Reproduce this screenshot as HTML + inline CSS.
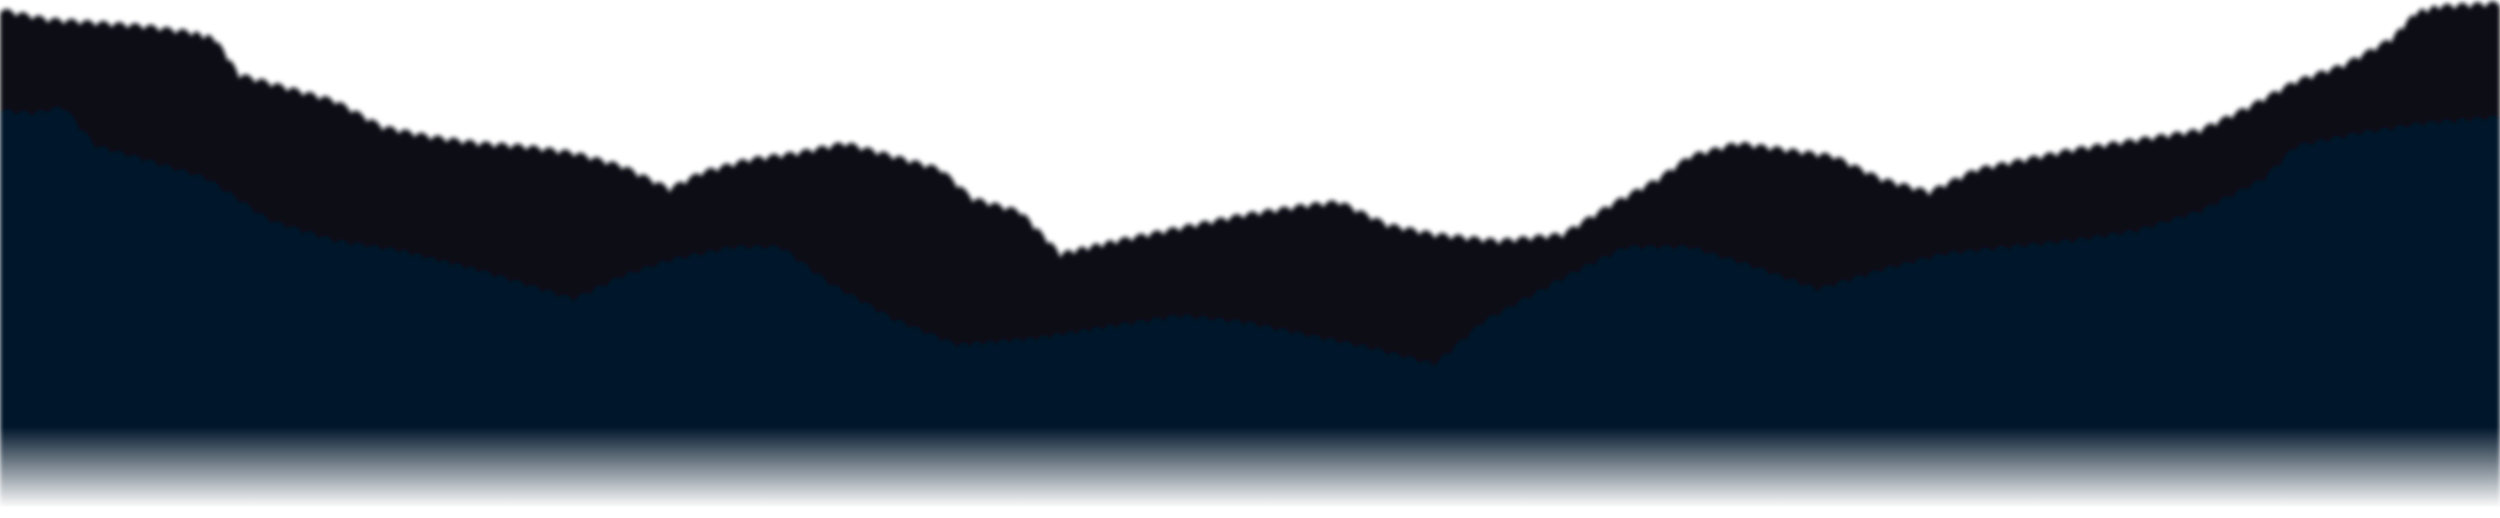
<!DOCTYPE html>
<html>
<head>
<meta charset="utf-8">
<style>
  html,body{margin:0;padding:0;background:#fff;}
  body{width:2500px;height:518px;overflow:hidden;}
  svg{display:block;}
</style>
</head>
<body>
<svg id="scene" width="2500" height="518" viewBox="0 0 1568 318" preserveAspectRatio="none" xmlns="http://www.w3.org/2000/svg">
  <defs>
    <filter id="soft" x="-5%" y="-5%" width="110%" height="110%">
      <feGaussianBlur stdDeviation="1.4"/>
    </filter>
    <linearGradient id="fade" x1="0" y1="0" x2="0" y2="1">
      <stop offset="0" stop-color="#fff" stop-opacity="0"/>
      <stop offset="1" stop-color="#fff" stop-opacity="1"/>
    </linearGradient>
  </defs>
  <g filter="url(#soft)">
    <path id="back" fill="#080f19" d=""/>
    <path id="front" fill="#03172a" d=""/>
  </g>
  <rect x="0" y="262" width="1568" height="50" fill="url(#fade)"/>
  <rect x="0" y="311" width="1568" height="7" fill="#fff"/>
</svg>
<script>
const backX = [0,30,60,90,120,135,150,180,210,240,270,300,330,360,390,420,440,470,500,530,560,590,610,640,665,700,740,780,820,840,870,900,940,980,1010,1040,1060,1090,1120,1150,1180,1210,1240,1270,1300,1340,1380,1410,1440,1470,1500,1515,1530,1568];
const backY = [8,14,16,18,22,26,48,56,64,80,86,90,92,96,104,118,108,100,96,90,98,106,124,132,158,150,142,134,128,126,140,146,150,146,128,112,98,90,94,98,112,120,106,100,94,88,82,68,52,42,26,10,6,4];
const frontX = [0,20,40,60,90,130,170,210,250,300,340,360,390,420,460,490,520,560,600,650,700,740,780,820,860,900,930,960,990,1020,1060,1100,1140,1180,1220,1260,1300,1340,1380,1420,1440,1480,1520,1568];
const frontY = [70,72,68,92,100,112,138,150,156,168,180,186,172,162,154,154,176,198,214,210,202,196,200,208,216,226,200,184,168,154,154,166,180,168,158,154,150,144,132,112,92,84,78,74];
function scallop(xs, ys){
  let d = "M0,318 L0," + ys[0];
  for(let i=0;i<xs.length-1;i++){
    const x0=xs[i], x1=xs[i+1], y0=ys[i], y1=ys[i+1];
    const n = Math.max(1, Math.round((x1-x0)/9));
    for(let k=1;k<=n;k++){
      const t=k/n, xm=x0+(x1-x0)*(t-0.5/n), ym=y0+(y1-y0)*(t-0.5/n);
      const x=x0+(x1-x0)*t, y=y0+(y1-y0)*t;
      d += " Q" + xm.toFixed(1) + "," + (ym-7).toFixed(1) + " " + x.toFixed(1) + "," + y.toFixed(1);
    }
  }
  return d + " L1568,318 Z";
}
document.getElementById('back').setAttribute('d', scallop(backX, backY));
document.getElementById('front').setAttribute('d', scallop(frontX, frontY));
</script>
</body>
</html>
